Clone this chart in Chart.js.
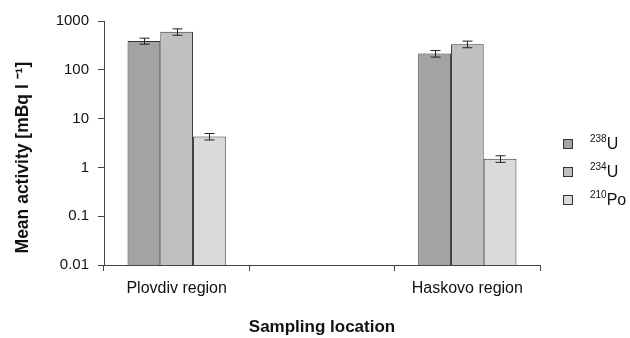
<!DOCTYPE html>
<html>
<head>
<meta charset="utf-8">
<script src="https://cdn.jsdelivr.net/npm/chart.js@4.4.1/dist/chart.umd.min.js"></script>
<style>
  html, body { margin: 0; padding: 0; background: #fff; }
  #wrap { position: relative; width: 630px; height: 338px; }
  #legend { position: absolute; left: 563px; top: 130px; font-family: "Liberation Sans", Arial, sans-serif; font-size: 16px; color: #111; }
  #legend .item { display: flex; align-items: center; height: 28px; }
  #legend .box { width: 8px; height: 8px; border: 1px solid #333; margin-right: 17px; }
  #legend sup { font-size: 10px; vertical-align: 7px; line-height: 0; }
</style>
</head>
<body>
<div id="wrap">
  <canvas id="chart" width="630" height="338"></canvas>
  <div id="legend"></div>
</div>
<script>
const categories = ['Plovdiv region', '', 'Haskovo region']
const seriesNames = ['238U', '234U', '210Po']
const u238 = [390, null, 215]
const u234 = [600, null, 335]
const po210 = [4.3, null, 1.5]
const u238Err = [55, null, 33]
const u234Err = [90, null, 52]
const po210Err = [0.65, null, 0.23]
const yTicks = [0.01, 0.1, 1, 10, 100, 1000]
const yTickLabels = ['0.01', '0.1', '1', '10', '100', '1000']

const colors = ['#a3a3a3', '#c0c0c0', '#dadada']
const values = [u238, u234, po210]
const errors = [u238Err, u234Err, po210Err]

// superscript mass number, then symbol
const legendParts = [['238', 'U'], ['234', 'U'], ['210', 'Po']]
document.getElementById('legend').innerHTML = legendParts.map((p, i) =>
  `<div class="item"><span class="box" style="background:${colors[i]}"></span><span><sup>${p[0]}</sup>${p[1]}</span></div>`
).join('')

const errorBars = {
  id: 'errorBars',
  afterDatasetsDraw(chart) {
    const ctx = chart.ctx
    const y = chart.scales.y
    ctx.save()
    ctx.strokeStyle = '#222'
    ctx.lineWidth = 1
    chart.data.datasets.forEach((ds, di) => {
      const meta = chart.getDatasetMeta(di)
      meta.data.forEach((bar, i) => {
        const v = ds.data[i]
        const e = errors[di][i]
        if (v == null || e == null) return
        const x = Math.round(bar.x) + 0.5
        const top = y.getPixelForValue(v + e)
        const bot = y.getPixelForValue(v - e)
        ctx.beginPath()
        ctx.moveTo(x, top); ctx.lineTo(x, bot)
        ctx.moveTo(x - 5, top); ctx.lineTo(x + 5, top)
        ctx.moveTo(x - 5, bot); ctx.lineTo(x + 5, bot)
        ctx.stroke()
      })
    })
    ctx.restore()
  }
}

const family = '"Liberation Sans", Arial, sans-serif'

new Chart(document.getElementById('chart'), {
  type: 'bar',
  data: {
    labels: categories,
    datasets: values.map((d, i) => ({
      label: seriesNames[i],
      data: d,
      backgroundColor: colors[i],
      borderColor: '#333',
      borderWidth: 1,
      barPercentage: 1,
      categoryPercentage: 0.676
    }))
  },
  options: {
    responsive: false,
    animation: false,
    layout: { padding: { top: 21, right: 90, left: 0, bottom: 0 } },
    plugins: {
      legend: { display: false },
      tooltip: { enabled: false }
    },
    scales: {
      x: {
        offset: true,
        grid: { display: true, drawOnChartArea: false, offset: true, color: '#444', tickLength: 6, tickColor: '#444' },
        border: { color: '#444', width: 1 },
        ticks: { color: '#111', font: { family, size: 16 }, padding: 8, maxRotation: 0 },
        title: { display: true, text: 'Sampling location', color: '#111', font: { family, size: 17, weight: 'bold' }, padding: { top: 10, bottom: 0 } },
        afterFit: (s) => { s.height = 73 }
      },
      y: {
        type: 'logarithmic',
        min: 0.01,
        max: 1000,
        afterBuildTicks: (s) => { s.ticks = yTicks.map(v => ({ value: v })) },
        grid: { display: true, drawOnChartArea: false, color: '#444', tickLength: 6, tickColor: '#444' },
        border: { color: '#444', width: 1 },
        ticks: {
          color: '#111', font: { family, size: 15 }, padding: 9,
          callback: (v) => { const i = yTicks.indexOf(v); return i >= 0 ? yTickLabels[i] : '' }
        },
        // trailing spaces push the title a little lower, as in the original
        title: { display: true, text: 'Mean activity [mBq l ⁻¹]\u00a0\u00a0\u00a0\u00a0\u00a0\u00a0', color: '#111', font: { family, size: 17.5, weight: 'bold' }, padding: { top: 13, bottom: 8 } },
        afterFit: (s) => { s.width = 104 }
      }
    }
  },
  plugins: [errorBars]
})
</script>
</body>
</html>
